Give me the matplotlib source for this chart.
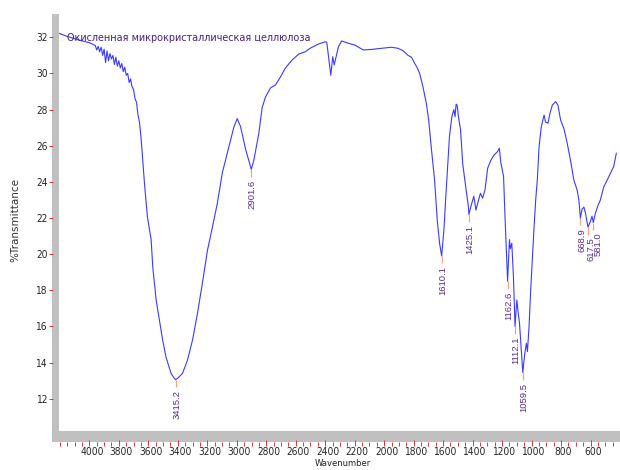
import matplotlib
matplotlib.use("Agg")
import matplotlib.pyplot as plt
import matplotlib.transforms as mtrans
from matplotlib import font_manager as fm
from matplotlib.patches import Rectangle
import numpy as np

# ---------------- data ----------------
wavenumber = [4206, 4150, 4072, 4000, 3960, 3950, 3940, 3930, 3920, 3910, 3900, 3890,
              3880, 3870, 3860, 3850, 3840, 3830, 3820, 3810, 3800, 3790, 3780, 3770,
              3760, 3750, 3740, 3730, 3720, 3712, 3700, 3690, 3680, 3670, 3660, 3648,
              3626, 3606, 3581, 3570, 3547, 3525, 3503, 3480, 3446, 3424, 3415.2, 3401,
              3368, 3334, 3300, 3267, 3233, 3199, 3165, 3132, 3098, 3053, 3019, 2997,
              2974, 2940, 2901.6, 2884, 2850, 2828, 2805, 2771, 2737, 2704, 2670, 2625,
              2580, 2535, 2501, 2445, 2396, 2389, 2362, 2349, 2339, 2310, 2288, 2243,
              2198, 2142, 2086, 2018, 1951, 1905, 1872, 1838, 1815, 1793, 1775, 1759,
              1737, 1714, 1698, 1681, 1658, 1640, 1624, 1610.1, 1595, 1579, 1557, 1541,
              1527, 1519, 1512, 1505, 1496, 1482, 1467, 1444, 1428, 1425.1, 1406, 1392,
              1377, 1366, 1347, 1332, 1316, 1298, 1276, 1253, 1231, 1219, 1208, 1190,
              1181, 1170, 1162.6, 1150, 1144, 1134, 1123, 1112.1, 1100, 1090, 1082,
              1073, 1064, 1059.5, 1046, 1035, 1028, 1017, 1006, 994, 983, 972, 961,
              949, 934, 915, 905, 888, 875, 859, 837, 821, 803, 781, 758, 736, 713,
              691, 679, 668.9, 657, 645, 635, 617.5, 601, 590, 581.0, 567, 549, 533,
              510, 487, 465, 443, 425]
transmittance = [32.22, 32.05, 31.85, 31.7, 31.55, 31.3, 31.5, 31.2, 31.45, 31.0, 31.35, 30.6,
                 31.25, 30.7, 31.1, 30.8, 31.0, 30.5, 30.9, 30.4, 30.7, 30.3, 30.55, 30.1,
                 30.35, 29.9, 30.0, 29.5, 29.7, 29.3, 29.1, 28.6, 28.4, 27.7, 27.3, 26.3,
                 23.9, 22.05, 20.8, 19.3, 17.46, 16.36, 15.25, 14.3, 13.4, 13.13, 13.05, 13.13,
                 13.4, 14.14, 15.25, 16.7, 18.4, 20.2, 21.5, 22.8, 24.5, 25.95, 27.05, 27.5,
                 27.05, 25.8, 24.7, 25.2, 26.7, 28.1, 28.7, 29.2, 29.36, 29.8, 30.3, 30.74,
                 31.07, 31.2, 31.4, 31.63, 31.76, 31.7, 29.9, 30.93, 30.47, 31.48, 31.8, 31.67,
                 31.57, 31.3, 31.33, 31.39, 31.45, 31.39, 31.26, 31.0, 30.9, 30.56, 30.3, 30.0,
                 29.27, 28.35, 27.42, 25.95, 24.1, 21.9, 20.6, 19.9, 21.3, 23.55, 26.5, 27.6,
                 28.0, 27.6, 28.3, 28.25, 27.6, 26.9, 25.0, 23.55, 22.6, 22.2, 22.8, 23.2,
                 22.44, 22.8, 23.37, 23.1, 23.55, 24.75, 25.2, 25.5, 25.67, 25.86, 25.03, 24.3,
                 22.26, 20.05, 18.5, 20.8, 20.3, 20.6, 18.75, 16.0, 17.46, 16.7, 16.2,
                 15.07, 13.9, 13.45, 14.5, 15.07, 14.6, 16.0, 18.0, 19.86, 21.5, 23.0, 24.1,
                 25.95, 27.05, 27.7, 27.3, 27.25, 27.8, 28.25, 28.44, 28.25, 27.42, 26.96, 26.13, 25.2, 24.1,
                 23.55, 23.0, 22.0, 22.5, 22.6, 22.3, 21.5, 21.8, 22.1, 21.75, 22.26, 22.7, 23.0,
                 23.73, 24.1, 24.47, 24.84, 25.58]

peak_positions = [3415.2, 2901.6, 1610.1, 1425.1, 1162.6, 1112.1, 1059.5, 668.9, 617.5, 581.0]
peak_labels = ["3415.2", "2901.6", "1610.1", "1425.1", "1162.6", "1112.1", "1059.5",
               "668.9", "617.5", "581.0"]

x_major_ticks = list(range(4000, 599, -200))
y_ticks = list(range(12, 33, 2))
title = "Окисленная микрокристаллическая целлюлоза"
x_label = "Wavenumber"
y_label = "%Transmittance"

# ---------------- fonts: look for a narrow / condensed sans ----------------
def find_narrow():
    fl = fm.fontManager.ttflist
    for want in ["Liberation Sans Narrow", "Arial Narrow"]:
        for f in fl:
            if f.name == want and f.weight in (400, "normal", "regular") and f.style == "normal":
                return f.fname
    for fam in ["DejaVu Sans", "Noto Sans", "Open Sans", "Roboto", "Liberation Sans"]:
        for st in ["condensed", "semi-condensed"]:
            for f in fl:
                if (f.name == fam and f.stretch == st and f.style == "normal"
                        and f.weight in (400, "normal", "regular")):
                    return f.fname
    for f in fl:
        n = f.name.lower()
        if ("narrow" in n or "condensed" in n) and f.style == "normal" and \
                f.weight in (400, "normal", "regular") and "mono" not in n:
            return f.fname
    return None

nf = find_narrow()
if nf:
    def narrow_fp(size):
        return fm.FontProperties(fname=nf, size=size)
else:
    def narrow_fp(size):
        return fm.FontProperties(family=["Liberation Sans", "DejaVu Sans"], size=size)

# ---------------- figure ----------------
W, H = 620, 470
fig = plt.figure(figsize=(W / 100, H / 100), dpi=100)
L, R, B, T = 59, 620, 431, 14
ax = fig.add_axes([L / W, (H - B) / H, (R - L) / W, (B - T) / H])
renderer = fig.canvas.get_renderer()

def fit_size(text, target_px, base, cap):
    t = fig.text(0, 0, text, fontproperties=narrow_fp(base))
    w = t.get_window_extent(renderer).width
    t.remove()
    return min(cap, base * target_px / w)

gray = "#c0c0c0"
fig.add_artist(Rectangle((52 / W, (H - 442) / H), 7 / W, (442 - 14) / H,
                         transform=fig.transFigure, color=gray, zorder=-1, lw=0))
fig.add_artist(Rectangle((52 / W, (H - 442) / H), (620 - 52) / W, 11 / H,
                         transform=fig.transFigure, color=gray, zorder=-1, lw=0))

ax.plot(wavenumber, transmittance, color="#3a3aff", lw=0.8, zorder=3)

ax.set_xlim(4206, 421)
ax.set_ylim(10.21, 33.29)

for s in ["top", "right"]:
    ax.spines[s].set_visible(False)
ax.spines["left"].set_color("none")
ax.spines["bottom"].set_color("none")
ax.spines["left"].set_position(("outward", 7))
ax.spines["bottom"].set_position(("outward", 10.5))

tick_size = fit_size("4000", 23, 9, 9.5)
red = "#e83030"
ax.set_xticks(x_major_ticks)
ax.set_xticks(list(range(4200, 399, -50)), minor=True)
ax.tick_params(axis="x", which="major", direction="in", length=4.3, width=0.7,
               color=red, pad=0.8, labelcolor="#222222")
ax.tick_params(axis="x", which="minor", direction="in", length=2.6, width=0.7, color=red)
ax.set_yticks(y_ticks)
ax.tick_params(axis="y", which="major", direction="in", length=3.2, width=0.7,
               color=red, pad=1, labelcolor="#222222")
for lab in ax.get_xticklabels() + ax.get_yticklabels():
    lab.set_fontproperties(narrow_fp(tick_size))
shift = mtrans.ScaledTranslation(2.5 / 100, 0, fig.dpi_scale_trans)
for lab in ax.get_xticklabels():
    lab.set_transform(lab.get_transform() + shift)

fig.text(343 / W, (H - 464) / H, x_label, ha="center", va="center",
         fontproperties=narrow_fp(fit_size(x_label, 56, 9, 9.5)), color="#222222")
fig.text(15 / W, (H - 220) / H, y_label, ha="center", va="center", rotation=90,
         fontsize=7.5, color="#333333", family="DejaVu Sans")

ax.text((67 - L) / (R - L), 1 - (38 - T) / (B - T), title,
        transform=ax.transAxes, ha="left", va="center",
        fontproperties=narrow_fp(fit_size(title, 246, 10, 11)),
        color="#4b1f7a", zorder=5)

# peak markers and labels (small horizontal nudges keep the crowded labels apart)
label_nudge_px = {"668.9": 1.0, "617.5": 1.5, "581.0": 4.0}
wn_arr = np.array(wavenumber)[::-1]
tr_arr = np.array(transmittance)[::-1]
peak_t = np.interp(peak_positions, wn_arr, tr_arr)
drop = 7.5 / 18.07
ax.vlines(peak_positions, peak_t - drop, peak_t, color="#f4a08a", lw=0.9, zorder=2)
for p, t, lab in zip(peak_positions, peak_t, peak_labels):
    dx = 0.8 + label_nudge_px.get(lab, 0.0) * 0.72
    ax.annotate(lab, xy=(p, t - drop), xytext=(dx, -2), textcoords="offset points",
                rotation=90, ha="center", va="top", fontsize=6.8, color="#5a2d8a",
                family=["Liberation Sans", "DejaVu Sans"])

fig.savefig("out.png", dpi=100)
